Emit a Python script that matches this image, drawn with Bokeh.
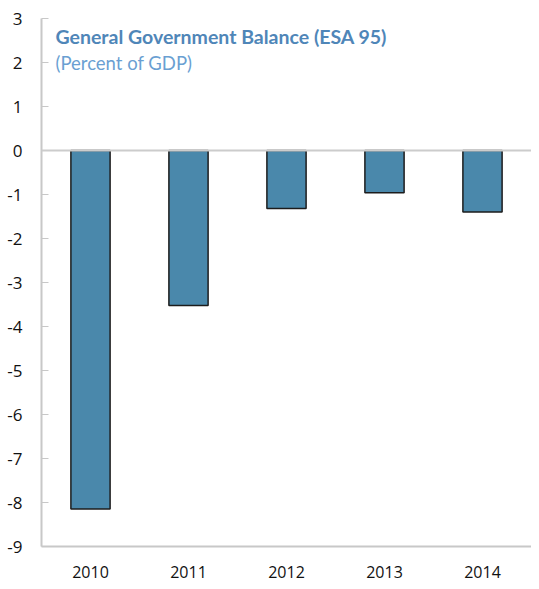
from bokeh.plotting import figure
from bokeh.models import (ColumnDataSource, Span, Label, Range1d, FactorRange,
                          FixedTicker, CustomJSTickFormatter)
from bokeh.embed import file_html
from bokeh.resources import INLINE

years = ["2010", "2011", "2012", "2013", "2014"]
balance = [-8.15, -3.52, -1.32, -0.96, -1.40]
y_ticks = list(range(-9, 4))
title_main = "General Government Balance (ESA 95)"
title_sub = "(Percent of GDP)"

src = ColumnDataSource(dict(year=years, val=balance, zero=[0] * len(years)))

p = figure(x_range=FactorRange(*years), y_range=Range1d(-9, 3),
           width=531, height=581, output_backend="svg", toolbar_location=None,
           min_border_left=41, min_border_top=18, min_border_bottom=35, min_border_right=0)
p.outline_line_color = None
p.xgrid.grid_line_color = None
p.ygrid.grid_line_color = None
p.x_range.range_padding = 0

p.vbar(x="year", top="zero", bottom="val", width=0.4, source=src,
       fill_color="#4a88ab", line_color="#1c1c1c", line_width=1.5)

p.add_layout(Span(location=0, dimension="width", line_color="#cccccc", line_width=2))

p.yaxis.ticker = FixedTicker(ticks=y_ticks)
p.yaxis.formatter = CustomJSTickFormatter(code="return tick.toFixed(0);")
for ax in (p.xaxis, p.yaxis):
    ax.axis_line_color = "#c8c8c8"
    ax.axis_line_width = 2
    ax.major_label_text_font = "Open Sans"
    ax.major_label_text_font_size = "17px"
    ax.major_label_text_color = "#111111"
    ax.minor_tick_line_color = None
p.xaxis.major_label_text_font_size = "16px"
p.yaxis.major_tick_in = 7
p.yaxis.major_tick_out = 0
p.yaxis.major_tick_line_color = "#c8c8c8"
p.yaxis.major_label_standoff = 19
p.xaxis.major_tick_line_color = None
p.xaxis.major_label_standoff = 13

p.add_layout(Label(x=14, y=510, x_units="screen", y_units="screen", text=title_main,
                   text_font="Lato", text_font_style="bold", text_font_size="19.5px",
                   text_color="#4f86b8", text_baseline="middle"))
p.add_layout(Label(x=14, y=484, x_units="screen", y_units="screen", text=title_sub,
                   text_font="Lato", text_font_size="18.5px",
                   text_color="#6a9fd2", text_baseline="middle"))

open("out.html", "w").write(file_html(p, INLINE))
